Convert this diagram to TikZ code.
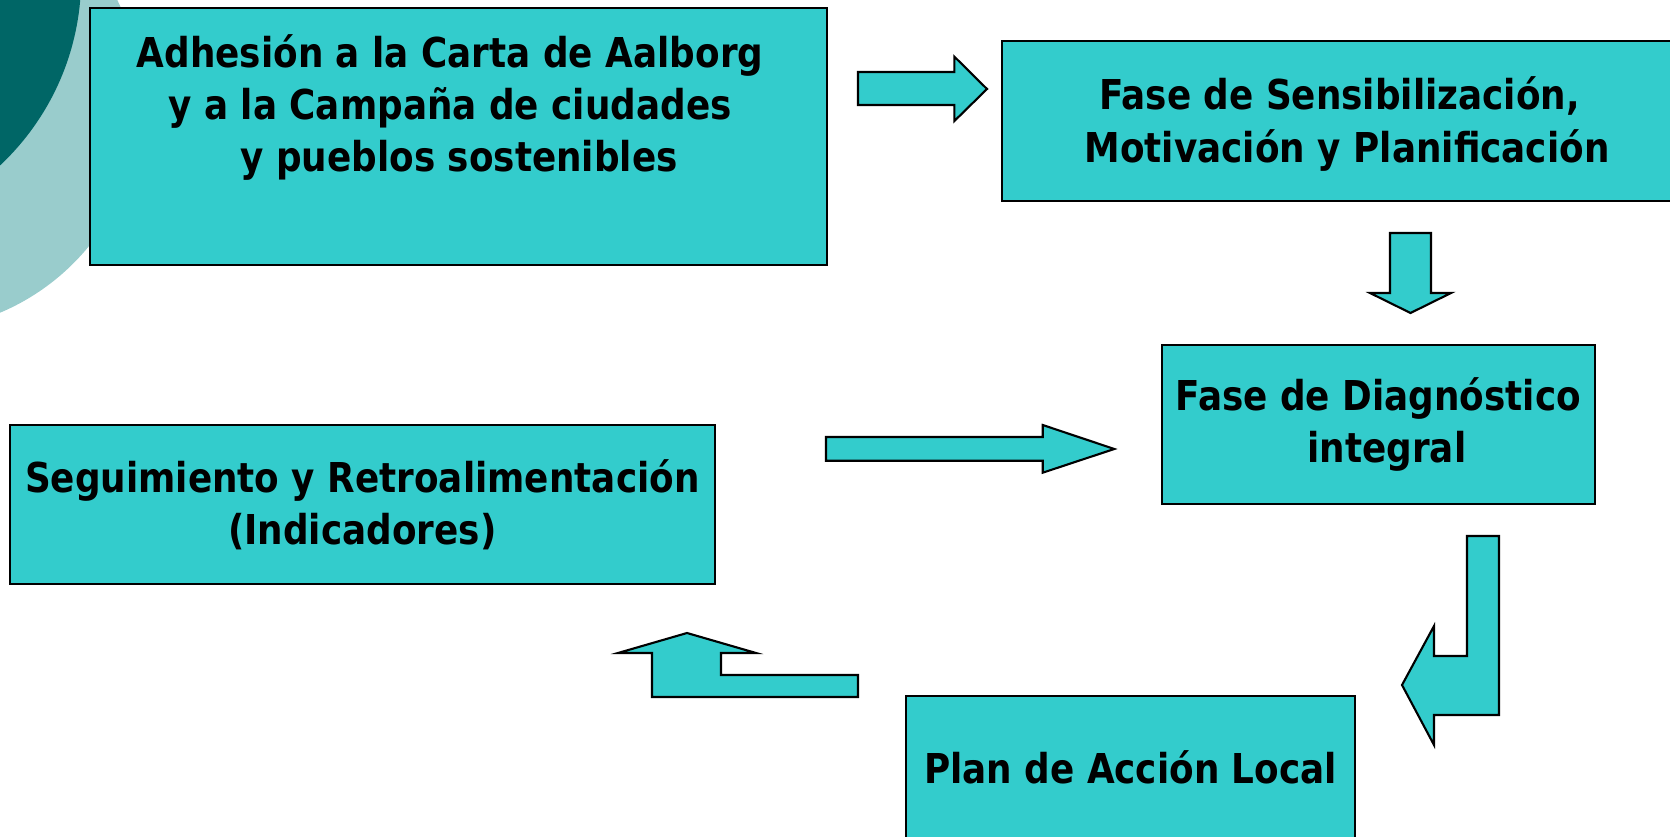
\documentclass[tikz,border=0pt]{standalone}
\usepackage{fontspec}
\usepackage{tikz}
\usetikzlibrary{positioning}
\newfontfamily\boxfont[FakeStretch=0.87]{DejaVu Sans Bold}
\definecolor{turquesa}{RGB}{51,204,204}
\definecolor{verdeosc}{RGB}{0,102,102}
\definecolor{verdeclaro}{RGB}{153,204,204}
\tikzset{
  fase/.style={draw=black, fill=turquesa, line width=0.6pt, inner sep=0pt},
  rotulo/.style={align=center, inner sep=0pt, font=\fontsize{11.7}{14.8}\boxfont},
  flecha/.style={draw=black, fill=turquesa, line width=0.6pt, line join=miter}
}
\begin{document}
\begin{tikzpicture}[x=0.01cm, y=-0.01cm]
\useasboundingbox (0,0) rectangle (1670,837);
\clip (0,0) rectangle (1670,837);
\fill[verdeclaro] (-89,101) circle (2.295cm);
\fill[verdeosc] (-176,-22) circle (2.57cm);

\node[fase, minimum width=7.36cm, minimum height=2.565cm] (adhesion) at (458.5,136.75) {};
\node[rotulo, anchor=base] (adhesiontxt) at (450,171.7)
  {Adhesión a la Carta de Aalborg\\y a la Campaña de ciudades\\\hspace*{0.18cm}y pueblos sostenibles};
\node[fase, rotulo, minimum width=6.76cm, minimum height=1.603cm] (sensib) at (1340,120.85) {};
\node[rotulo] (sensibtxt) at (1347,124)
  {Fase de Sensibilización,\hspace*{0.15cm}\\Motivación y Planificación};
\node[fase, rotulo, minimum width=4.327cm, minimum height=1.59cm] (diagnostico) at (1378.35,424.5)
  {Fase de Diagnóstico\\\hspace*{0.17cm}integral};
\node[fase, rotulo, minimum width=7.046cm, minimum height=1.593cm] (seguimiento) at (362.3,504.35)
  {Seguimiento y Retroalimentación\\(Indicadores)};
\node[fase, minimum width=4.49cm, minimum height=1.5cm] (plan) at (1130.5,771) {};
\node[rotulo] (plantxt) at (1130.5,767) {Plan de Acción Local};

\draw[flecha] (858,72) -- (954.4,72) -- (954.4,56.7) -- (987,89) -- (954.4,121) -- (954.4,105) -- (858,105) -- cycle;
\draw[flecha] (1390,233) -- (1431,233) -- (1431,293) -- (1451,293) -- (1410.5,313) -- (1370,293) -- (1390,293) -- cycle;
\draw[flecha] (826,437) -- (1042.7,437) -- (1042.7,425) -- (1114.3,449) -- (1042.7,472.7) -- (1042.7,460.7) -- (826,460.7) -- cycle;
\draw[flecha] (1467,536) -- (1499,536) -- (1499,715) -- (1434,715) -- (1434,745) -- (1402,685) -- (1434,626) -- (1434,656) -- (1467,656) -- cycle;
\draw[flecha] (858,675) -- (721,675) -- (721,653) -- (756,653) -- (687,633) -- (618,653) -- (652,653) -- (652,697) -- (858,697) -- cycle;
\end{tikzpicture}
\end{document}
